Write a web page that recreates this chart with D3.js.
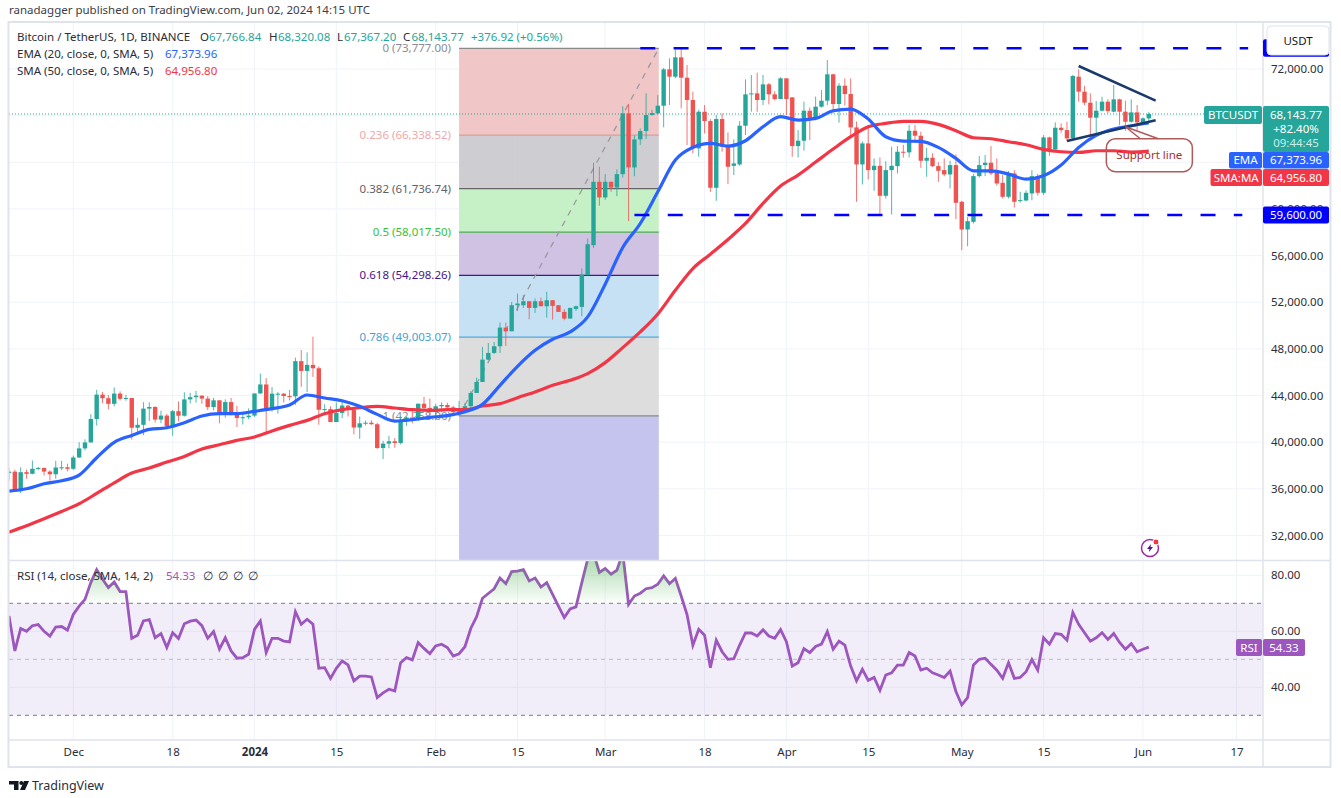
<!DOCTYPE html>
<html>
<head>
<meta charset="utf-8">
<script src="https://cdn.jsdelivr.net/npm/d3@7"></script>
<style>
  html, body { margin: 0; padding: 0; background: #fff; }
  svg { display: block; font-family: "Noto Sans", sans-serif; }
  svg text { fill: #131722; }
</style>
</head>
<body>
<svg id="chart" width="1341" height="798"></svg>
<script>
// daily candles, Nov 20 2023 to Jun 2 2024
const firstDay = "2023-11-20";
const opens = [
  37360,37475,35800,37430,37290,37720,37795,37480,37250,37830,37850,
  37720,38690,39470,39980,41990,44080,43770,43290,44170,43720,43790,41240,41490,42880,43020,41940,42280,41370,42660,42270,43670,43860,43990,43740,43020,43590,42510,43440,42580,42070,42140,
  42280,44180,44950,42850,44160,44160,43960,43930,46950,46110,46630,46340,42780,42840,41730,42510,43140,42770,41260,41620,41670,41540,39500,39880,40080,39930,41810,42120,42030,43300,42940,
  42580,43080,43190,42990,42580,42660,43090,44219,45164,47080,47653,48225,49827,49512,51744,51744,52087,51515,52087,51658,52173,51744,51172,50599,51429,51601,54319,56893,62329,
  60985,62329,61843,62987,68195,63560,65963,66679,68052,68195,68853,71970,71340,73000,71256,69340,65190,68338,67537,61815,67709,65334,63700,63817,67136,69826,69911,69340,70684,69826,69425,
  71199,69568,65391,65849,68424,67709,68767,69282,71542,68996,70570,69854,66993,63817,65620,63330,63702,61127,63330,63674,64904,64850,66706,66277,64132,64389,63674,63330,62959,63760,
  60612,58238,58896,62816,63760,63960,63100,62243,61042,63044,60670,60727,61328,62816,61385,66134,65104,66964,66764,66049,71342,70054,69110,67823,68423,69196,68338,69396,68338,67479,68280,
  67422,67766.84];
const highs = [
  37750,37650,37850,37650,38430,37890,37820,37590,38400,38400,38150,
  38850,40000,40250,42400,44490,44300,44050,44700,44360,44050,43800,42100,43430,43420,43090,42700,42430,42770,43500,44280,44230,44400,44020,43950,43800,43600,43680,43800,43130,42610,42900,
  44180,45880,45500,44730,44300,44220,44480,47250,47900,47700,49050,46500,43260,43080,43400,43570,43200,42930,42200,41850,41880,41670,40130,40550,40350,42200,42200,42840,43300,43880,43740,
  43300,43420,43380,43120,43540,43350,44370,45535,48167,48511,48596,50256,50256,52030,52745,52602,52087,52316,52401,52888,52173,51744,51400,51515,51714,54891,57466,63960,63617,
  62987,62329,63400,68800,69000,66300,66900,69911,68500,69768,72100,72916,73630,73777,72344,70055,68500,68910,67700,68050,68195,66564,65963,67537,71113,71485,71685,71485,70800,70100,71300,
  71199,69568,66764,69196,68700,69625,70198,72773,71600,70800,71199,71199,67500,65800,67194,64332,64418,64100,65333,65390,65500,67193,67193,66620,65247,64761,64000,64332,64132,64675,
  60700,59300,63000,64532,64618,65390,64332,62901,63245,63330,61471,61600,63330,63000,66334,66200,67422,67336,67479,71500,71971,70540,69911,69253,69625,69400,70626,69450,69282,69396,68910,
  67851,68320.08];
const lows = [
  36700,35750,35640,36870,37250,37620,37150,36700,36860,37600,37500,
  37620,38650,39300,39980,41420,43350,42820,43080,43580,43560,40220,40680,40600,41810,41680,41630,41250,40550,41800,42200,43320,43400,43300,42760,42720,41620,42100,42300,41300,41520,41965,
  42170,44150,40750,42630,42450,43400,43580,43200,44750,44300,45600,41500,42440,41720,41720,42050,42200,40680,40280,41450,41500,39430,38550,39480,39520,39820,41400,41620,41800,42680,42260,
  41880,42570,42880,42220,42260,42570,42790,44219,45164,47020,47560,47653,48253,49512,51257,51515,50542,51086,51658,50685,50513,51172,50456,50599,51257,50800,54319,56665,60269,
  60780,61471,61099,62700,58953,62800,65500,66000,68000,68100,67000,68910,71200,68624,65477,64762,64476,66480,61470,60700,64905,62130,62900,63700,66335,68338,68338,68910,68967,69300,69425,
  68052,64476,64418,64991,65906,67600,68700,68900,68195,67394,68853,66335,60613,62100,62530,61557,59554,60900,59525,63044,64400,64418,65676,63531,62758,63600,62329,62800,61757,59125,
  56464,56807,58753,62700,62816,62900,62000,60900,60900,60126,60550,60650,60750,61150,61200,64561,65050,66535,65820,65950,69196,68910,66192,66249,68350,68200,68280,67193,66706,67400,66706,
  67380,67367.20];
const closes = [
  37475,35800,37430,37290,37720,37795,37480,37250,37830,37850,37720,
  38690,39470,39980,41990,44080,43770,43290,44170,43720,43790,41240,41490,42880,43020,41940,42280,41370,42660,42270,43670,43860,43990,43740,43020,43590,42510,43440,42580,42070,42140,42280,
  44180,44950,42850,44160,44160,43960,43930,46950,46110,46630,46340,42780,42840,41730,42510,43140,42770,41260,41620,41670,41540,39500,39880,40080,39930,41810,42120,42030,43300,42940,42580,
  43080,43190,42990,42580,42660,43090,44219,45164,47080,47653,48225,49827,49512,51744,51887,52087,51515,52087,51658,52173,51687,51172,50599,51515,51658,54376,56979,62329,60985,
  62329,61843,62987,68195,63560,65963,66679,68052,68223,68853,71970,71340,73000,71256,69340,65190,68338,67537,61815,67709,65334,63617,63900,67136,69826,69911,69340,70684,69826,69425,71199,
  69425,65391,65849,68424,67709,68767,69282,71542,68996,70570,69854,66993,63817,65620,63331,63702,61127,63330,63702,64904,64850,66706,66277,64132,64389,63674,63273,62959,63760,60527,
  58238,58953,62816,63760,63960,63044,62186,61042,63044,60612,60755,61385,62816,61385,66134,65104,66964,66764,66049,71399,70054,69110,67823,68423,69196,68395,69396,68338,67479,68280,67422,
  67766.84,68143.77];

// moving averages, sampled every maStep days from the first day
const maStep = 3;
const emaValues = [35806,36006,36435,36693,37179,38667,39983,40584,41099,41242,41671,42243,42444,42444,42644,42873,43187,44046,43788,43559,43073,42386,41814,41929,42128,42272,42615,43245,44877,46508,47881,48825,49455,50742,53546,56693,58753,61472,64190,65277,65620,65391,65849,67050,67909,67623,67766,68424,68567,67709,66191,65820,65790,65276,64332,63273,63273,62987,62558,62845,63760,65276,66306,66850,67136,67373.96];
const smaValues = [32287,32831,33431,34061,34719,35605,36521,37351,37780,38295,38781,39411,39783,40155,40441,40956,41442,41871,42444,42787,42958,43073,42930,42787,42730,42787,42787,43100,43304,43819,44305,44877,45306,45879,46823,48110,49455,51000,53030,54892,56122,57381,58754,60470,61959,62903,64018,65134,66193,67051,67337,67509,67509,67251,66708,66107,66021,65764,65506,65106,64905,64848,64991,64991,64877,64956.80];

const rsiValues = [
  65.5,53,61,60,62,62.4,60,58.3,61.5,61.7,60.4,
  66,69,71.4,77.4,82,78.6,75.6,77.6,74.2,74.2,57.5,58.6,63.7,64.2,57.7,59.2,54.2,59.5,57.4,62.7,63.6,64,62,57.5,59.9,53.6,57.7,53,50.4,50.6,51.8,
  60.7,63.7,52.4,57.5,57.5,56.5,56.2,67,62.5,64.3,62.5,46.8,47,43.2,46.8,49.4,48,42.3,44,44,43.7,36.3,38,39.3,38.7,48.8,50.6,49.8,56,53.9,52,
  54.8,55.4,54.2,51.2,52,54.5,61,65.2,71.8,73.5,75.2,79,77,81.3,81.5,82,78,79,75.8,77.4,73.2,69,64.9,68,68.7,77.4,85.7,88,81,
  82.4,80.4,81.8,88,69.6,72.6,73.6,75.2,75.6,76.8,79.8,77,78.9,72.6,66,55,60.7,58.6,47,56.8,52.7,50,50.2,55.1,59.4,59.4,58.3,60.5,58.3,57.5,
  60.6,56.3,47.6,48.8,53.8,52.4,54.6,55.4,59.9,53.6,56.5,55.1,47.6,42.3,46.4,42.5,43.5,38.9,44.4,45.2,47.9,47.9,52.4,51.2,46.2,46.8,45.2,44.4,43.5,45.8,38.5,
  33.7,36.3,48,50,50.4,48.2,46.1,43.2,48.8,43.2,43.5,45.6,49.9,46.1,57.7,55.4,59.2,58.9,56.8,66.7,62.5,59.5,56.5,57.7,59.5,57.1,59.2,56,53.6,55.6,52.7,53.6,54.33];

// axis ticks
const priceGrid = [72000,68000,64000,60000,56000,52000,48000,44000,40000,36000,32000];
const priceTicks = [72000,60000,56000,52000,48000,44000,40000,36000,32000];
const rsiTicks = [80,60,40];
const rsiLevels = [70,50,30];
const timeTicks = ["2023-12-01","2023-12-18","2024-01-01","2024-01-15","2024-02-01","2024-02-15","2024-03-01","2024-03-18","2024-04-01","2024-04-15","2024-05-01","2024-05-15","2024-06-01","2024-06-17"];
const timeLabels = ["Dec","18","2024","15","Feb","15","Mar","18","Apr","15","May","15","Jun","17"];

// fib retracement
const fibPrices = [73777,66338.52,61736.74,58017.50,54298.26,49003.07,42258];
const fibLabels = ["0 (73,777.00)","0.236 (66,338.52)","0.382 (61,736.74)","0.5 (58,017.50)","0.618 (54,298.26)","0.786 (49,003.07)","1 (42,258.00)"];
const fibFills = ["#f0c2c2","#cac9ce","#c2f0c2","#ccbde0","#c2dff2","#dadada","#c0c0ee"];
const fibLines = ["#8a8a8a","#dd9c9c","#666666","#4caf50","#4a148c","#4fa8dc","#8a8a8a"];
const fibText = ["#8a8d96","#f0a8a8","#5f6169","#35c435","#4a148c","#4a9fd4","#8a8d96"];
const fibDates = ["2024-02-05","2024-03-10"];

// hand drawn lines
const rangeHigh = 73777;
const rangeLow = 59480;
const rangeHighDates = ["2024-03-07","2024-06-19"];
const rangeLowDates = ["2024-03-06","2024-06-18"];
const wedgeTopDates = ["2024-05-21","2024-06-03"];
const wedgeTopPrices = [72257,69283];
const wedgeBottomDates = ["2024-05-19","2024-06-03"];
const wedgeBottomPrices = [65820,67600];
const calloutTip = ["2024-05-23",67050];

const colorUp = "#26a69a", colorDown = "#ef5350", colorEma = "#2962ff", colorSma = "#f23645", colorRsi = "#9c56bd", gridColor = "#f0f3fa", frameColor = "#e0e3eb";

const left = 9, right = 1263, outerRight = 1331, paneTop = 22, paneBottom = 560, rsiBottom = 740, bottom = 767;
const fontSize = 11.5;

let parseDay = d3.utcParse("%Y-%m-%d");
let dayAt = i => d3.utcDay.offset(parseDay(firstDay), i);

let x = d3.scaleUtc().domain([parseDay(firstDay), parseDay("2024-06-02")]).range([9, 1148.8]);
let y = d3.scaleLinear().domain([32000, 72000]).range([535.5, 69]);
let yRsi = d3.scaleLinear().domain([30, 70]).range([715.3, 603.3]);

let svg = d3.select("#chart");

let defs = svg.append("defs");
defs.append("clipPath").attr("id", "clipMain").append("rect")
  .attr("x", left).attr("y", paneTop).attr("width", right - left).attr("height", paneBottom - paneTop);
defs.append("clipPath").attr("id", "clipRsi").append("rect")
  .attr("x", left).attr("y", paneBottom).attr("width", right - left).attr("height", rsiBottom - paneBottom);
defs.append("clipPath").attr("id", "clipOver").append("rect")
  .attr("x", left).attr("y", paneBottom).attr("width", right - left).attr("height", yRsi(70) - paneBottom);
let grad = defs.append("linearGradient").attr("id", "overGrad").attr("gradientUnits", "userSpaceOnUse")
  .attr("x1", 0).attr("x2", 0).attr("y1", 562).attr("y2", yRsi(70));
grad.append("stop").attr("offset", 0).attr("stop-color", "#4caf50").attr("stop-opacity", 0.42);
grad.append("stop").attr("offset", 1).attr("stop-color", "#4caf50").attr("stop-opacity", 0.02);

svg.append("text").attr("x", 9).attr("y", 14).attr("font-size", fontSize).style("fill", "#3a3d47")
  .text("ranadagger published on TradingView.com, Jun 02, 2024 14:15 UTC");

// grid
let grid = svg.append("g").attr("stroke", gridColor).attr("stroke-width", 1);
timeTicks.forEach(t => {
  grid.append("line").attr("x1", x(parseDay(t))).attr("x2", x(parseDay(t))).attr("y1", paneTop).attr("y2", rsiBottom);
});
priceGrid.forEach(p => {
  grid.append("line").attr("x1", left).attr("x2", right).attr("y1", y(p)).attr("y2", y(p));
});
rsiTicks.forEach(r => {
  grid.append("line").attr("x1", left).attr("x2", right).attr("y1", yRsi(r)).attr("y2", yRsi(r));
});

// fib block
let main = svg.append("g").attr("clip-path", "url(#clipMain)");
let fibX0 = x(parseDay(fibDates[0])), fibX1 = x(parseDay(fibDates[1])) + 1;
fibPrices.forEach((p, i) => {
  let nextY = i < fibPrices.length - 1 ? y(fibPrices[i + 1]) : paneBottom;
  main.append("rect").attr("x", fibX0).attr("width", fibX1 - fibX0)
    .attr("y", y(p)).attr("height", nextY - y(p))
    .attr("fill", fibFills[i]).attr("fill-opacity", 0.93);
});
fibPrices.forEach((p, i) => {
  main.append("line").attr("x1", fibX0).attr("x2", fibX1).attr("y1", y(p)).attr("y2", y(p))
    .attr("stroke", fibLines[i]).attr("stroke-width", 1.2);
  main.append("text").attr("x", fibX0 - 8).attr("y", y(p) + 4).attr("text-anchor", "end")
    .attr("font-size", fontSize).style("fill", fibText[i]).text(fibLabels[i]);
});
main.append("line").attr("x1", fibX0).attr("y1", y(fibPrices[6])).attr("x2", fibX1).attr("y2", y(fibPrices[0]))
  .attr("stroke", "#9a9a9e").attr("stroke-width", 1.3).attr("stroke-dasharray", "6 6");

// last price line
main.append("line").attr("x1", left).attr("x2", 1204).attr("y1", y(closes[closes.length - 1])).attr("y2", y(closes[closes.length - 1]))
  .attr("stroke", colorUp).attr("stroke-width", 1).attr("stroke-dasharray", "1 2");

// candles
let candles = d3.range(opens.length).map(i => ({ day: dayAt(i), o: opens[i], h: highs[i], l: lows[i], c: closes[i] }));
let candle = main.selectAll("g.candle").data(candles).join("g").attr("class", "candle");
candle.append("line")
  .attr("x1", d => x(d.day)).attr("x2", d => x(d.day))
  .attr("y1", d => y(d.h)).attr("y2", d => y(d.l))
  .attr("stroke", d => d.c >= d.o ? colorUp : colorDown).attr("stroke-width", 1).attr("stroke-opacity", 0.8);
candle.append("rect")
  .attr("x", d => x(d.day) - 2.2).attr("width", 4.4)
  .attr("y", d => y(Math.max(d.o, d.c)))
  .attr("height", d => Math.max(1, Math.abs(y(d.o) - y(d.c))))
  .attr("fill", d => d.c >= d.o ? colorUp : colorDown);

// moving averages
let maLine = d3.line().x((d, i) => x(dayAt(i * maStep))).y(d => y(d)).curve(d3.curveMonotoneX);
main.append("path").attr("d", maLine(smaValues)).attr("fill", "none").attr("stroke", colorSma).attr("stroke-width", 3.2);
main.append("path").attr("d", maLine(emaValues)).attr("fill", "none").attr("stroke", colorEma).attr("stroke-width", 3.2);

// hand drawn annotations
main.append("line").attr("x1", x(parseDay(rangeHighDates[0]))).attr("x2", x(parseDay(rangeHighDates[1])))
  .attr("y1", y(rangeHigh)).attr("y2", y(rangeHigh))
  .attr("stroke", "#0000ff").attr("stroke-width", 2.6).attr("stroke-dasharray", "15 18.3");
main.append("line").attr("x1", x(parseDay(rangeLowDates[0]))).attr("x2", x(parseDay(rangeLowDates[1])))
  .attr("y1", y(rangeLow)).attr("y2", y(rangeLow))
  .attr("stroke", "#0000ff").attr("stroke-width", 2.6).attr("stroke-dasharray", "15 18.3");
main.append("line").attr("x1", x(parseDay(wedgeTopDates[0]))).attr("x2", x(parseDay(wedgeTopDates[1])) + 1)
  .attr("y1", y(wedgeTopPrices[0])).attr("y2", y(wedgeTopPrices[1]))
  .attr("stroke", "#1b3a6b").attr("stroke-width", 2.5);
main.append("line").attr("x1", x(parseDay(wedgeBottomDates[0]))).attr("x2", x(parseDay(wedgeBottomDates[1])) + 1)
  .attr("y1", y(wedgeBottomPrices[0])).attr("y2", y(wedgeBottomPrices[1]))
  .attr("stroke", "#1b3a6b").attr("stroke-width", 2.5);

let tipX = x(parseDay(calloutTip[0])) + 35, tipY = y(calloutTip[1]);
main.append("path")
  .attr("d", `M${tipX + 15},${tipY + 12} L${tipX},${tipY} L${tipX + 33},${tipY + 12}`)
  .attr("fill", "none").attr("stroke", "#b05a5a").attr("stroke-width", 1.5);
main.append("rect").attr("x", tipX - 19).attr("y", tipY + 12).attr("width", 86).attr("height", 33).attr("rx", 9)
  .attr("fill", "none").attr("stroke", "#b05a5a").attr("stroke-width", 1.5);
main.append("text").attr("x", tipX + 24).attr("y", tipY + 32.5).attr("text-anchor", "middle")
  .attr("font-size", fontSize).style("fill", "#a33232").text("Support line");

// rsi pane
let rsiPane = svg.append("g").attr("clip-path", "url(#clipRsi)");
rsiPane.append("rect").attr("x", left).attr("width", right - left)
  .attr("y", yRsi(70)).attr("height", yRsi(30) - yRsi(70)).attr("fill", "#7e57c2").attr("fill-opacity", 0.1);
rsiLevels.forEach((l, i) => {
  rsiPane.append("line").attr("x1", left).attr("x2", right).attr("y1", yRsi(l)).attr("y2", yRsi(l))
    .attr("stroke", i == 1 ? "#b8bac2" : "#787b86").attr("stroke-width", 1).attr("stroke-dasharray", "4 4");
});
let overArea = d3.area().x((d, i) => x(dayAt(i))).y0(yRsi(70)).y1(d => yRsi(d));
svg.append("path").attr("clip-path", "url(#clipOver)").attr("d", overArea(rsiValues)).attr("fill", "url(#overGrad)");
let rsiLine = d3.line().x((d, i) => x(dayAt(i))).y(d => yRsi(d));
rsiPane.append("path").attr("d", rsiLine(rsiValues)).attr("fill", "none").attr("stroke", colorRsi).attr("stroke-width", 2.8);

// frame
let frame = svg.append("g").attr("stroke", frameColor).attr("fill", "none");
frame.append("rect").attr("x", left - 0.5).attr("y", paneTop).attr("width", outerRight - left).attr("height", bottom - paneTop).attr("stroke-width", 2);
frame.append("line").attr("x1", right).attr("x2", right).attr("y1", paneTop).attr("y2", bottom).attr("stroke-width", 1.5);
frame.append("line").attr("x1", left).attr("x2", outerRight).attr("y1", paneBottom + 0.5).attr("y2", paneBottom + 0.5).attr("stroke-width", 1.5);
frame.append("line").attr("x1", left).attr("x2", outerRight).attr("y1", rsiBottom).attr("y2", rsiBottom).attr("stroke-width", 1.5);

// axes
let priceAxis = d3.axisRight(y).tickValues(priceTicks).tickSize(0).tickPadding(8).tickFormat(d3.format(",.2f"));
let priceG = svg.append("g").attr("transform", `translate(${right},0)`).call(priceAxis);
let rsiAxis = d3.axisRight(yRsi).tickValues(rsiTicks).tickSize(0).tickPadding(8).tickFormat(d3.format(".2f"));
let rsiG = svg.append("g").attr("transform", `translate(${right},0)`).call(rsiAxis);
let timeAxis = d3.axisBottom(x).tickValues(timeTicks.map(parseDay)).tickSize(0).tickPadding(8)
  .tickFormat((d, i) => timeLabels[i]);
let timeG = svg.append("g").attr("transform", `translate(0,${rsiBottom})`).call(timeAxis);
[priceG, rsiG, timeG].forEach(g => {
  g.select(".domain").remove();
  g.selectAll("text").attr("font-size", fontSize).attr("font-family", '"Noto Sans", sans-serif').style("fill", "#2a2e39");
});
timeG.selectAll("text").filter((d, i) => timeLabels[i] == "2024").attr("font-weight", "bold");

// price labels on the right
function tag(xPos, yPos, w, h, color, txt, textColor) {
  svg.append("rect").attr("x", xPos).attr("y", yPos).attr("width", w).attr("height", h).attr("rx", 2).attr("fill", color);
  if (txt) {
    return svg.append("text").attr("x", xPos + w / 2).attr("y", yPos + h / 2 + 4).attr("text-anchor", "middle")
      .attr("font-size", fontSize).style("fill", textColor || "#fff").text(txt);
  }
}
let fmt = d3.format(",.2f");
let lastClose = closes[closes.length - 1];
let lastEma = emaValues[emaValues.length - 1];
let lastSma = smaValues[smaValues.length - 1];
let lastRsi = rsiValues[rsiValues.length - 1];

tag(right, y(rangeHigh) - 9, 66, 17.5, "#0000ff");
svg.append("rect").attr("x", 1267).attr("y", 26).attr("width", 62).attr("height", 29).attr("rx", 4)
  .attr("fill", "#fff").attr("stroke", frameColor);
svg.append("text").attr("x", 1298).attr("y", 44.5).attr("text-anchor", "middle").attr("font-size", fontSize).text("USDT");

tag(1204, 106, 58, 18, colorUp, "BTCUSDT");
tag(right, 106, 66, 46, colorUp, fmt(lastClose)).attr("y", 119);
svg.append("text").attr("x", right + 33).attr("y", 133).attr("text-anchor", "middle").attr("font-size", fontSize).style("fill", "#fff").text("+82.40%");
svg.append("text").attr("x", right + 33).attr("y", 147).attr("text-anchor", "middle").attr("font-size", fontSize).style("fill", "#c9ece8").text("09:44:45");
tag(1229, 152, 33, 16.5, colorEma, "EMA");
tag(right, 152, 66, 16.5, colorEma, fmt(lastEma));
tag(1210.5, 169, 51.5, 17, colorSma, "SMA:MA");
tag(right, 169, 66, 17, colorSma, fmt(lastSma));
tag(right, 206.5, 66, 17, "#0000ff", "59,600.00");
tag(1236, 639, 26, 17, colorRsi, "RSI");
tag(right, 639, 42, 17, colorRsi, d3.format(".2f")(lastRsi));

// legend text
function legendRow(yPos, parts) {
  let t = svg.append("text").attr("y", yPos).attr("font-size", fontSize);
  parts.forEach(p => {
    t.append("tspan").attr("x", p[0]).style("fill", p[2] || "#2a2e39").text(p[1]);
  });
}
let teal = "#26a69a";
legendRow(41, [[17, "Bitcoin / TetherUS, 1D, BINANCE"], [200, "O"], [209, fmt(opens[opens.length - 1]), teal],
  [269, "H"], [278, fmt(highs[highs.length - 1]), teal], [337, "L"], [344, fmt(lows[lows.length - 1]), teal],
  [403, "C"], [411.5, fmt(lastClose), teal], [471, "+376.92 (+0.56%)", teal]]);
legendRow(58, [[17, "EMA (20, close, 0, SMA, 5)"], [165, fmt(lastEma), colorEma]]);
legendRow(75, [[17, "SMA (50, close, 0, SMA, 5)"], [165, fmt(lastSma), colorSma]]);
legendRow(580, [[17, "RSI (14, close, SMA, 14, 2)"], [166, d3.format(".2f")(lastRsi), colorRsi], [203, "∅"], [218, "∅"], [233, "∅"], [248, "∅"]]);

// lightning marker
let mark = svg.append("g").attr("transform", "translate(1150,548)");
mark.append("circle").attr("r", 8.5).attr("fill", "#fff").attr("stroke", "#9c27b0").attr("stroke-width", 1.5);
mark.append("path").attr("d", "M1,-4 L-3,1 L-0.5,1 L-1,4 L3,-1 L0.5,-1 Z").attr("fill", "#4a148c");
mark.append("circle").attr("cx", 6).attr("cy", -6).attr("r", 3).attr("fill", "#f23645").attr("stroke", "#fff");

// logo
let logo = svg.append("g").attr("fill", "#131722");
logo.append("path").attr("d", "M9,781 H18.5 V790 H14 V784.6 H9 Z M24,781 H29 L25,790 H20 Z");
logo.append("circle").attr("cx", 21.3).attr("cy", 783).attr("r", 2);
svg.append("text").attr("x", 32).attr("y", 790).attr("font-size", 12.5).style("fill", "#2a2e39").text("TradingView");
</script>
</body>
</html>
